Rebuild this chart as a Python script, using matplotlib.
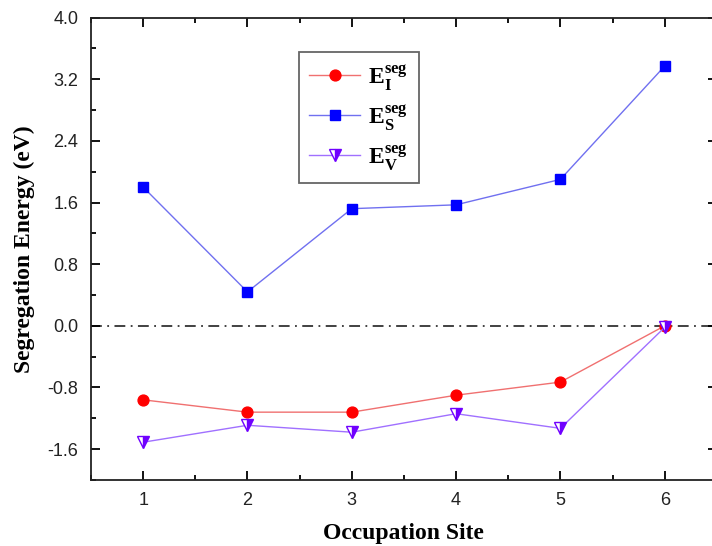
import numpy as np
import matplotlib
matplotlib.use('Agg')
import matplotlib.pyplot as plt
from matplotlib.ticker import MultipleLocator, FormatStrFormatter

# ---- segregation energies per occupation site (eV) ----
sites = [1, 2, 3, 4, 5, 6]
e_i = [-0.96, -1.12, -1.12, -0.90, -0.73, 0.0]
e_s = [1.80, 0.44, 1.52, 1.57, 1.90, 3.37]
e_v = [-1.51, -1.29, -1.38, -1.14, -1.33, -0.02]

plt.rcParams['mathtext.fontset'] = 'custom'
plt.rcParams['mathtext.rm'] = 'Liberation Serif'
plt.rcParams['mathtext.bf'] = 'Liberation Serif:bold'
plt.rcParams['font.family'] = 'Liberation Sans'

fig = plt.figure(figsize=(7.12, 5.46), dpi=100)
ax = fig.add_axes([0.1278, 0.1209, 0.879, 0.847])

ax.axhline(0.0, color='#333333', lw=1.3, ls=(0, (6, 3, 1, 3)), zorder=1)

ax.plot(sites, e_i, color='#f07070', lw=1.0, marker='o', ms=7.8,
		mfc='#ff0000', mec='#ff0000', label=r'$\mathbf{E}_{\mathbf{I}}^{\mathbf{seg}}$')
ax.plot(sites, e_s, color='#7070f0', lw=1.0, marker='s', ms=6.8,
		mfc='#0000ff', mec='#0000ff', label=r'$\mathbf{E}_{\mathbf{S}}^{\mathbf{seg}}$')
ax.plot(sites, e_v, color='#a070ff', lw=1.0, marker='v', ms=8.5,
		mfc='#7000ff', mec='#7000ff', fillstyle='right', mfcalt='white',
		label=r'$\mathbf{E}_{\mathbf{V}}^{\mathbf{seg}}$')

ax.set_xlim(0.5, 6.5)
ax.set_ylim(-2.0, 4.0)
ax.xaxis.set_major_locator(MultipleLocator(1))
ax.xaxis.set_minor_locator(MultipleLocator(0.5))
ax.set_yticks(np.arange(-1.6, 4.01, 0.8))
ax.yaxis.set_minor_locator(MultipleLocator(0.4))
ax.yaxis.set_major_formatter(FormatStrFormatter('%.1f'))

ax.tick_params(which='both', direction='in', top=True, right=True,
			   labelsize=13, labelcolor='#222222', width=1.3)
ax.tick_params(which='major', length=6.5, pad=9)
ax.tick_params(which='minor', length=3.5)
for sp in ax.spines.values():
	sp.set_linewidth(1.3)
	sp.set_color('#222222')

ax.set_xlabel('Occupation Site', family='Liberation Serif', fontweight='bold',
			  fontsize=17, labelpad=10)
ax.set_ylabel('Segregation Energy (eV)', family='Liberation Serif', fontweight='bold',
			  fontsize=17, labelpad=9)

leg = ax.legend(loc='upper left', bbox_to_anchor=(0.332, 0.925), borderaxespad=0,
				fontsize=17, fancybox=False, edgecolor='#666666', framealpha=1,
				handlelength=2.15, labelspacing=0.42, borderpad=0.45, handletextpad=0.35)
leg.get_frame().set_linewidth(1.3)

fig.savefig('out.png', dpi=100)
